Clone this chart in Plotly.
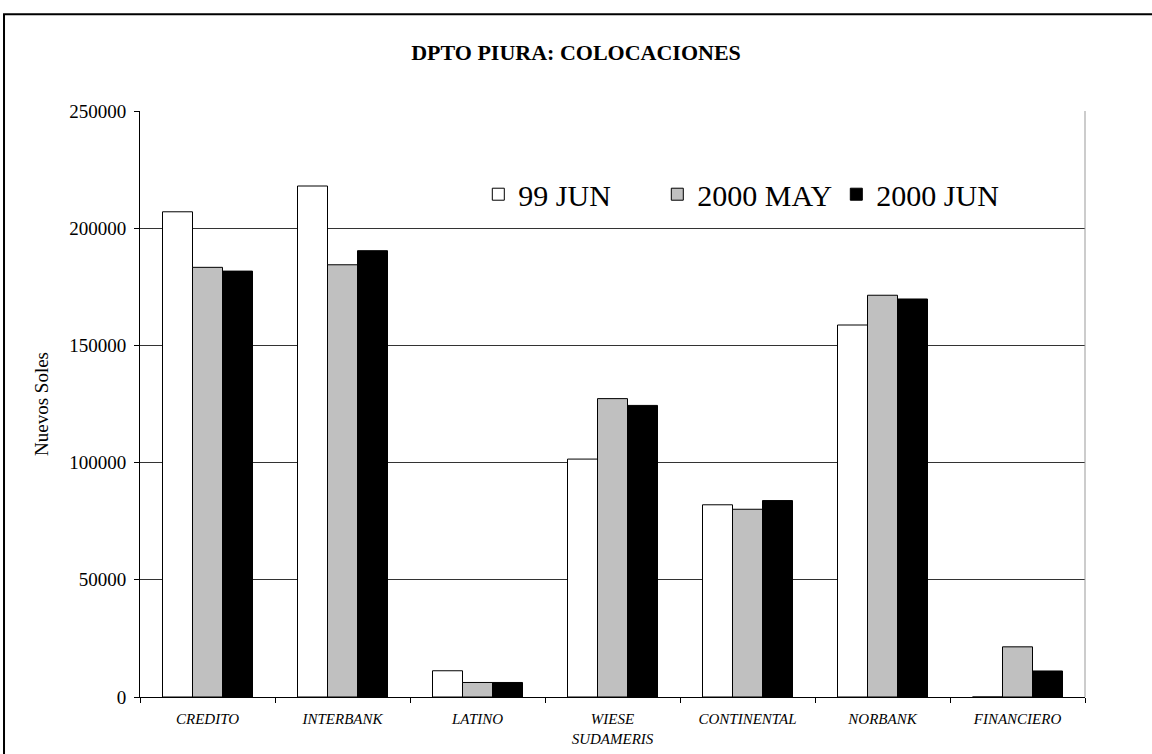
import plotly.graph_objects as go

categories = ["CREDITO", "INTERBANK", "LATINO", "WIESE<br>SUDAMERIS",
              "CONTINENTAL", "NORBANK", "FINANCIERO"]
series_names = ["99 JUN", "2000 MAY", "2000 JUN"]
jun_99 = [207000, 218000, 11200, 101500, 82000, 158700, 0]
may_2000 = [183300, 184400, 6200, 127300, 80100, 171400, 21400]
jun_2000 = [181700, 190400, 6200, 124400, 83800, 169800, 11100]
y_ticks = [0, 50000, 100000, 150000, 200000, 250000]

colors = ["#FFFFFF", "#C0C0C0", "#000000"]
SERIF = "Liberation Serif, Times New Roman, serif"

fig = go.Figure()
for name, vals, col in zip(series_names, [jun_99, may_2000, jun_2000], colors):
    fig.add_trace(go.Bar(
        x=categories, y=vals, name=name,
        marker=dict(color=col, line=dict(color="#000000", width=1)),
    ))

fig.update_layout(
    width=1152, height=754,
    margin=dict(l=140, r=67, t=111, b=57),
    paper_bgcolor="white", plot_bgcolor="white",
    barmode="group", bargap=1/3, bargroupgap=0,
    font=dict(family=SERIF, color="black"),
    title=dict(text="<b>DPTO PIURA: COLOCACIONES</b>", x=0.5, xanchor="center",
               y=0.931, yanchor="middle", font=dict(size=22, family=SERIF)),
    legend=dict(orientation="h", x=0.358, y=0.858, xanchor="left", yanchor="middle",
                font=dict(size=30, family=SERIF), bgcolor="rgba(0,0,0,0)",
                traceorder="normal", entrywidth=134, entrywidthmode="pixels"),
    xaxis=dict(showline=True, linecolor="black", linewidth=1,
               ticks="outside", ticklen=5, tickcolor="black", tickson="boundaries",
               ticklabelstandoff=8, automargin=False,
               tickfont=dict(size=15, family=SERIF, style="italic")),
    yaxis=dict(range=[0, 250000], tickvals=y_ticks, tickformat="d",
               showline=True, linecolor="black", linewidth=1,
               ticks="outside", ticklen=5, tickcolor="black",
               ticklabelstandoff=4, automargin=False,
               showgrid=True, gridcolor="#333333", gridwidth=1,
               tickfont=dict(size=19, family=SERIF),
               title=dict(text="Nuevos Soles", font=dict(size=19, family=SERIF), standoff=15)),
    shapes=[
        dict(type="line", xref="paper", yref="paper", x0=1, x1=1, y0=0, y1=1,
             line=dict(color="#999999", width=1)),
        dict(type="rect", xref="paper", yref="paper", x0=-0.1439, x1=1.2, y0=-0.2, y1=1.165,
             line=dict(color="black", width=2), layer="below"),
    ],
)

fig.write_html("out.html", config={"displayModeBar": False},
               post_script="document.body.style.margin='0';")
